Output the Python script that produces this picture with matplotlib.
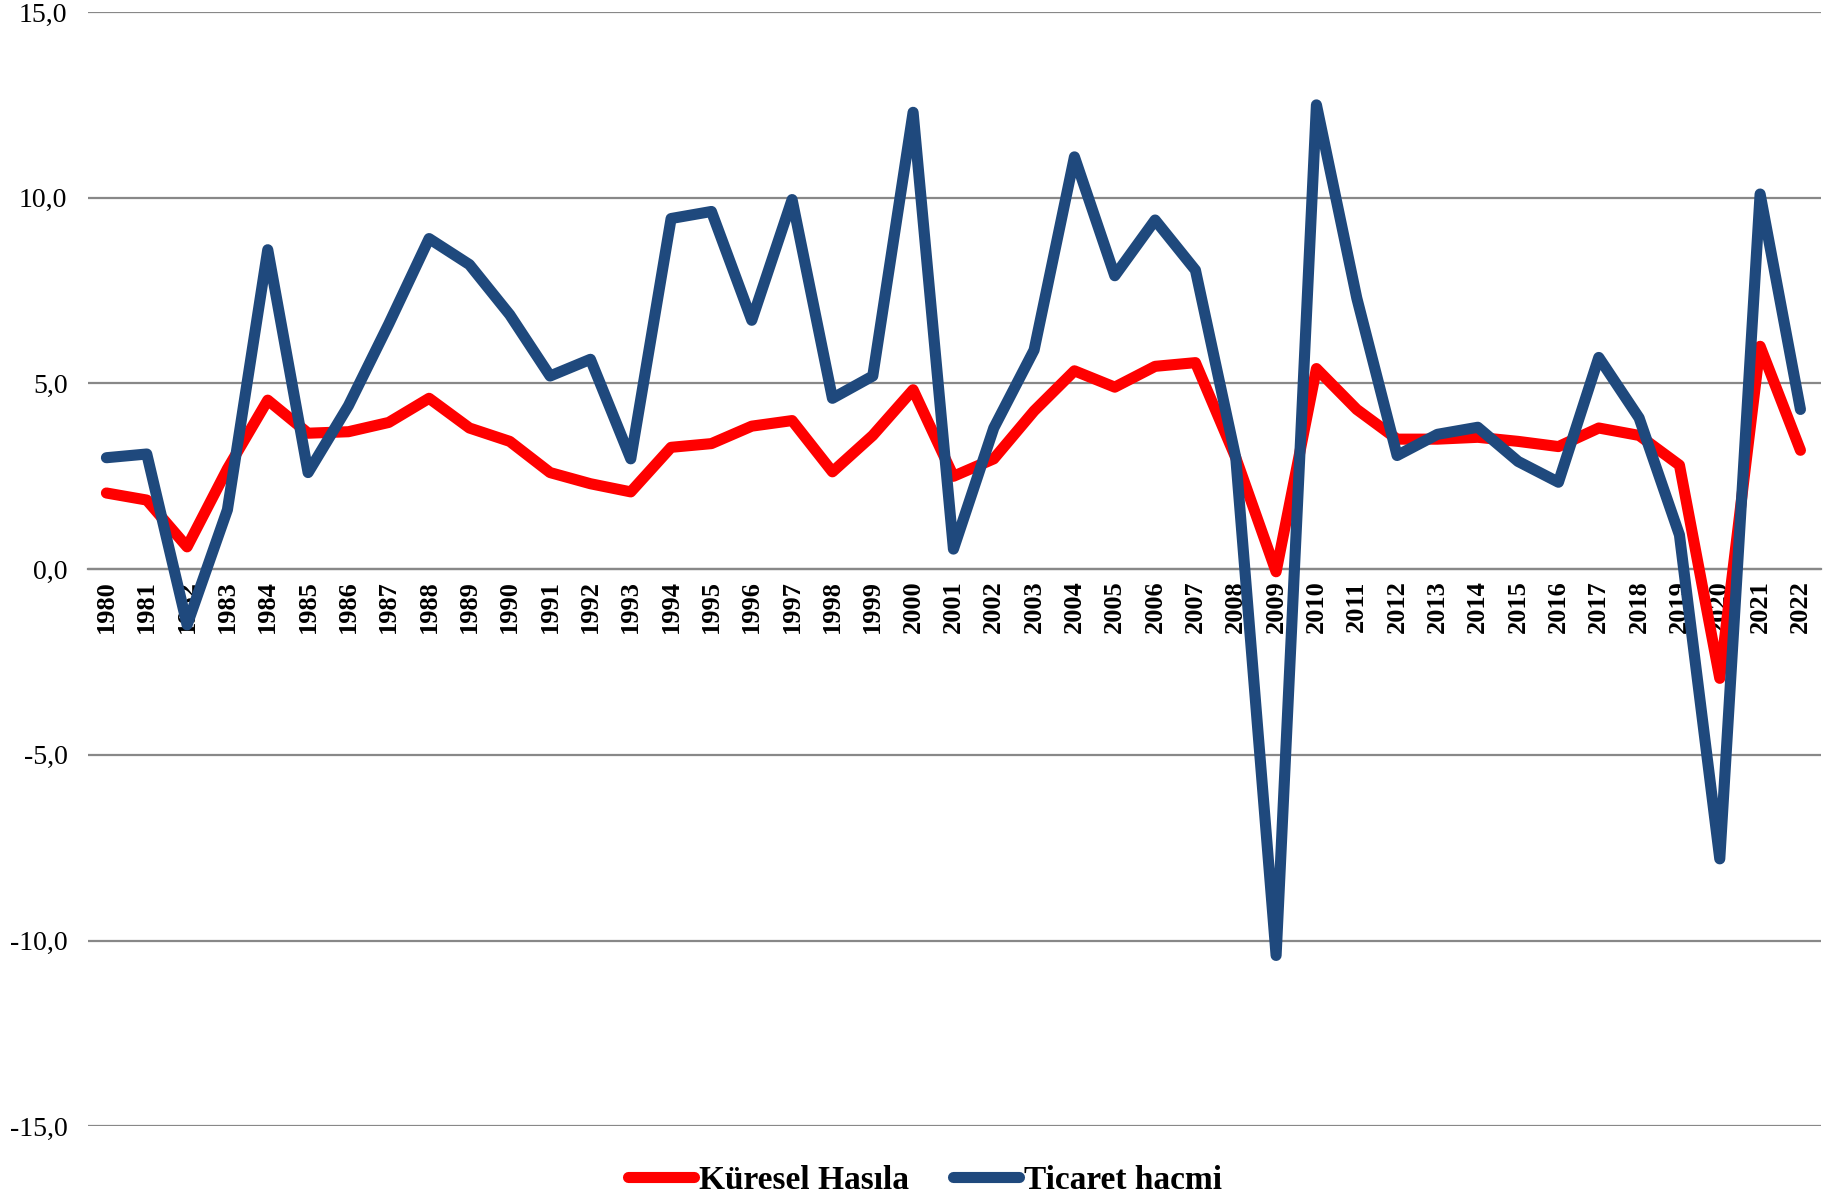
import matplotlib.pyplot as plt
from matplotlib.ticker import FuncFormatter

years = list(range(1980, 2023))

kuresel_hasila = [2.05, 1.86, 0.6, 2.7, 4.55, 3.66, 3.7, 3.95, 4.6, 3.8,
                  3.44, 2.6, 2.3, 2.08, 3.28, 3.38, 3.85, 4.0, 2.62, 3.6,
                  4.83, 2.5, 2.97, 4.26, 5.34, 4.9, 5.46, 5.56, 3.0, -0.07,
                  5.4, 4.3, 3.5, 3.5, 3.55, 3.44, 3.3, 3.8, 3.6, 2.8,
                  -2.94, 6.0, 3.2]

ticaret_hacmi = [3.0, 3.1, -1.5, 1.6, 8.6, 2.6, 4.4, 6.6, 8.9, 8.2,
                 6.85, 5.2, 5.65, 2.97, 9.44, 9.63, 6.7, 9.95, 4.6, 5.2,
                 12.3, 0.54, 3.8, 5.9, 11.1, 7.9, 9.4, 8.05, 3.0, -10.4,
                 12.5, 7.3, 3.06, 3.63, 3.82, 2.9, 2.34, 5.7, 4.07, 0.92,
                 -7.8, 10.1, 4.3]

y_ticks = [-15, -10, -5, 0, 5, 10, 15]

plt.rcParams['font.family'] = ['Liberation Serif', 'DejaVu Serif']

fig = plt.figure(figsize=(18.39, 12.02), dpi=100)
ax = fig.add_axes([0.048, 0.063, 0.942, 0.927])

ax.plot(years, kuresel_hasila, color='#ff0000', lw=8,
        solid_capstyle='round', solid_joinstyle='round', label='Küresel Hasıla', zorder=3)
ax.plot(years, ticaret_hacmi, color='#1f497d', lw=8,
        solid_capstyle='round', solid_joinstyle='round', label='Ticaret hacmi', zorder=4)

ax.set_ylim(-15, 15)
ax.set_xlim(1979.55, 2022.5)
ax.set_yticks(y_ticks)
ax.yaxis.set_major_formatter(FuncFormatter(lambda v, p: f"{v:.1f}".replace('.', ',')))
ax.grid(axis='y', color='#888888', lw=1.6, zorder=0)
ax.set_axisbelow(True)

for s in ['top', 'right', 'left']:
    ax.spines[s].set_visible(False)
ax.spines['bottom'].set_position(('data', 0))
ax.spines['bottom'].set_color('#888888')
ax.spines['bottom'].set_linewidth(1.6)

ax.set_xticks(years)
ax.set_xticklabels([str(y) for y in years], rotation=90, fontsize=19,
                   fontweight='bold')
ax.tick_params(axis='x', length=0, pad=8)
ax.tick_params(axis='y', length=0, labelsize=20, pad=15)

leg = fig.legend(loc='lower center', bbox_to_anchor=(0.503, -0.02), ncol=2,
                 frameon=False, prop={'size': 24, 'weight': 'bold'},
                 handlelength=2.0, handletextpad=0.15, columnspacing=1.3)

fig.savefig('out.png', dpi=100)
